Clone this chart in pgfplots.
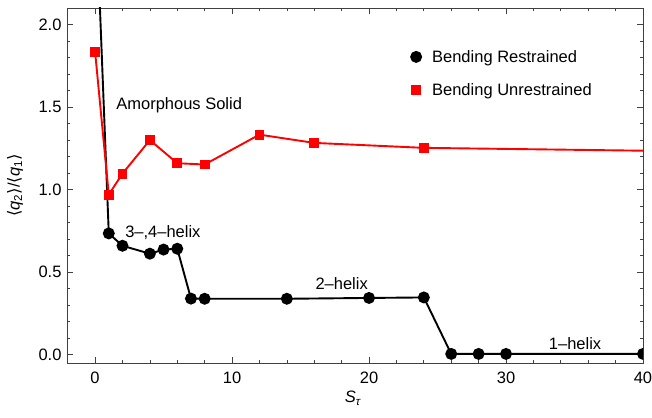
\documentclass[border=0pt]{standalone}
\usepackage{fontspec}
\setmainfont{Liberation Sans}
\newfontfamily\dejavu{DejaVu Sans}
\usepackage{pgfplots}
\pgfplotsset{compat=1.18}
\pgfplotsset{dotlegend/.style={legend image code/.code={\path[##1] plot coordinates {(9bp,0bp)}; \path[draw=none,fill=none] (0bp,0bp) rectangle (23bp,1bp);}}}
\newcommand\lf{\fontsize{16.5bp}{19.5bp}\selectfont}
\begin{document}
\begin{tikzpicture}[font=\lf]
\useasboundingbox (-67bp,-55bp) rectangle (585bp,363bp);
\begin{axis}[
  anchor=south west, at={(0,0)},
  scale only axis, width=576bp, height=355bp,
  xmin=-2.05, xmax=40, ymin=-0.05, ymax=2.1,
  axis line style={black!75, line width=0.8bp},
  tick align=inside,
  xtick={0,10,20,30,40}, minor x tick num=4,
  ytick={0,0.5,1,1.5,2}, minor y tick num=4,
  major tick length=6bp, minor tick length=3.5bp,
  every tick/.style={black!75, line width=0.7bp},
  /pgf/number format/assume math mode=true,
  ticklabel style={font=\lf},
  yticklabel style={/pgf/number format/.cd, fixed, fixed zerofill, precision=1, /tikz/.cd, xshift=-2bp},
  xticklabel style={yshift=-5bp},
  clip marker paths=true,
  xlabel={\textit{S}\textsubscript{\textit{τ}}},
  xlabel style={at={(axis description cs:0.4965,-0.099)}, anchor=center, font=\lf},
  ylabel={{\dejavu ⟨}\textit{q}\textsubscript{2}{\dejavu ⟩}/{\dejavu ⟨}\textit{q}\textsubscript{1}{\dejavu ⟩}},
  ylabel style={at={(axis description cs:-0.0903,0.5)}, anchor=center, font=\lf},
  legend style={draw=none, fill=none, at={(axis description cs:0.585,0.893)}, anchor=north west, row sep=16bp, font=\lf, nodes={font=\lf}},
  legend cell align=left,
]
\addplot[black, line width=1.9bp, mark=*, mark size=5bp, mark options={fill=black, draw=none}, dotlegend]
coordinates {(0,2.85)(1,0.735)(2,0.66)(4,0.612)(5,0.637)(6,0.642)(7,0.34)(8,0.339)(14,0.339)(20,0.344)(24,0.347)(26,0.005)(28,0.005)(30,0.005)(40,0.005)};
\addlegendentry{Bending Restrained}
\addplot[red, line width=1.9bp, mark=square*, mark size=4bp, mark options={fill=red, draw=none}, dotlegend]
coordinates {(0,1.836)(1,0.97)(2,1.097)(4,1.30)(6,1.16)(8,1.152)(12,1.333)(16,1.283)(24,1.253)(50,1.225)};
\addlegendentry{Bending Unrestrained}
\node at (axis cs:6.14,1.51) {Amorphous Solid};
\node at (axis cs:4.95,0.737) {3–,4–helix};
\node at (axis cs:18.0,0.43) {2–helix};
\node at (axis cs:35.04,0.067) {1–helix};
\end{axis}
\end{tikzpicture}
\end{document}
